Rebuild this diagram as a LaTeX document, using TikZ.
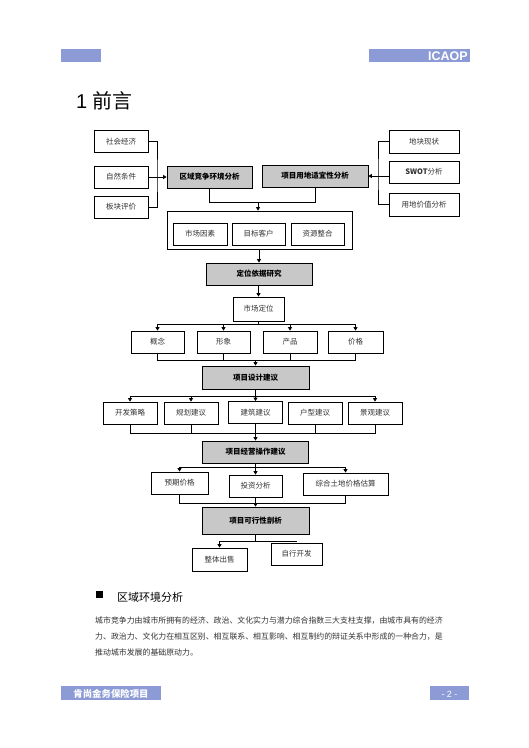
\documentclass[tikz,border=0pt]{standalone}
\usepackage{fontspec}
\setmainfont{Liberation Sans}
\newfontfamily\cjk{Noto Sans CJK SC}
\usetikzlibrary{arrows.meta,calc}
\definecolor{hdr}{HTML}{8C9BD5}
\definecolor{shade}{HTML}{C8C8C8}
\definecolor{ink}{HTML}{333333}
\tikzset{
  wbox/.style={draw, line width=0.8pt, fill=white, inner sep=0pt, minimum width=54pt, minimum height=22pt, text=ink, font=\cjk\fontsize{7.5}{8}\selectfont},
  gbox/.style={wbox, fill=shade, minimum width=106pt, text=black, font=\cjk\bfseries\fontsize{7.5}{8}\selectfont},
  link/.style={line width=0.8pt},
  arr/.style={link, -{Triangle[length=3.5pt,width=4pt]}},
  para/.style={anchor=base west, inner sep=0pt, text=ink, font=\cjk\fontsize{7.9}{9}\selectfont},
  band/.style={anchor=base, inner sep=0pt, text=white, font=\bfseries\fontsize{9.4}{10}\selectfont},
}
\begin{document}
\begin{tikzpicture}[x=1pt,y=-1pt]
  \useasboundingbox[fill=white] (0,0) rectangle (529,748);
  % header and footer bands
  \fill[hdr] (61,49) rectangle (101,62);
  \fill[hdr] (369,49) rectangle (470,62);
  \node[anchor=base east, inner sep=0pt, text=white, font=\bfseries\fontsize{12.5}{13}\selectfont] (icaop) at (468,60) {ICAOP};
  \fill[hdr] (61,686) rectangle (161,700);
  \fill[hdr] (430,686) rectangle (469,700);
  \node[band, font=\cjk\bfseries\fontsize{9.4}{10}\selectfont] (proj) at (111,697) {肯尚金务保险项目};
  \node[band, font=\fontsize{9}{10}\selectfont] (page) at (449.5,697) {- 2 -};
  % title
  \node[anchor=base west, inner sep=0pt, font=\fontsize{20}{22}\selectfont] (title) at (76,108) {1 {\cjk 前言}};

  % first row
  \node[wbox] (se) at (121,141.5) {社会经济};
  \node[wbox] (zr) at (121,177) {自然条件};
  \node[wbox] (bk) at (121,207) {板块评价};
  \node[gbox, minimum width=85pt] (qy) at (209.5,177) {区域竞争环境分析};
  \node[gbox] (xm) at (315,176) {项目用地适宜性分析};
  \node[wbox, minimum width=70pt, minimum height=23pt] (dk) at (424,141.5) {地块现状};
  \node[wbox, minimum width=70pt] (swot) at (424,172) {\textbf{SWOT}分析};
  \node[wbox, minimum width=70pt, minimum height=23pt] (yd) at (424,204.5) {用地价值分析};
  \coordinate (lj) at (157,177);
  \coordinate (rj) at (378,176);
  \draw[link] (se.east) -| (lj) |- (bk.east);
  \draw[arr] (zr.east) -- (qy.west);
  \draw[link] (dk.west) -| (rj) |- (yd.west);
  \draw[arr] (swot.west |- xm.east) -- (xm.east);

  % market block
  \node[wbox, minimum width=185pt, minimum height=38pt] (ys) at (259.5,230) {};
  \node[wbox] (sc) at (200,234) {市场因素};
  \node[wbox, minimum width=53pt] (mb) at (258.5,234) {目标客户};
  \node[wbox, minimum width=53pt] (zy) at (317.5,234) {资源整合};
  \coordinate (j1) at (258,202);
  \draw[link] (qy.south) |- (j1);
  \draw[link] (xm.south) |- (j1);
  \draw[arr] (j1) -- (j1 |- ys.north);

  \node[gbox] (dw) at (259,274) {定位依据研究};
  \node[wbox, minimum width=51pt, minimum height=24pt] (scdw) at (258.5,309) {市场定位};
  \draw[arr] (dw.north |- ys.south) -- (dw.north);
  \draw[arr] (scdw.north |- dw.south) -- (scdw.north);

  % positioning
  \node[wbox, minimum width=53pt] (gn) at (157.5,342) {概念};
  \node[wbox, minimum width=53pt] (xx) at (223.5,342) {形象};
  \node[wbox] (cp) at (290,342) {产品};
  \node[wbox, minimum width=55pt] (jg) at (355.5,342) {价格};
  \node[gbox, minimum width=107pt, minimum height=23pt] (sj) at (255.5,377.5) {项目设计建议};
  \coordinate (j2) at (258.5,324);
  \coordinate (j3) at (255.5,360);
  \draw[link] (scdw.south) -- (j2);
  \foreach \n in {gn,xx,cp,jg} {
    \draw[arr] (j2) -| (\n.north);
    \draw[link] (\n.south) |- (j3);
  }
  \draw[arr] (j3) -- (sj.north);

  % design advice
  \node[wbox] (kf) at (130,413) {开发策略};
  \node[wbox] (gh) at (191,413) {规划建议};
  \node[wbox] (jz) at (255.5,412.5) {建筑建议};
  \node[wbox] (hx) at (315,413) {户型建议};
  \node[wbox] (jgjy) at (375,413) {景观建议};
  \node[gbox] (jy) at (255.5,452) {项目经营操作建议};
  \coordinate (j4) at (255.5,396);
  \coordinate (j5) at (255.5,433);
  \draw[link] (sj.south) -- (j4);
  \foreach \n in {kf,gh,jz,jgjy}
    \draw[arr] (j4) -| (\n.north);
  \foreach \n in {kf,gh,hx,jgjy}
    \draw[link] (\n.south) |- (j5);
  \draw[arr] (jz.south) -- (jy.north);

  % operation advice
  \node[wbox, minimum width=57pt] (yq) at (179.5,483) {预期价格};
  \node[wbox, minimum width=53pt] (tz) at (255.5,486) {投资分析};
  \node[wbox, minimum width=85pt] (zh) at (345.5,484) {综合土地价格估算};
  \node[gbox, minimum width=107pt, minimum height=27pt] (kx) at (255.5,520.5) {项目可行性剖析};
  \coordinate (j6) at (255.5,467);
  \coordinate (j7) at (255.5,503);
  \draw[link] (jy.south) -- (j6);
  \foreach \n in {yq,tz,zh}
    \draw[arr] (j6) -| (\n.north);
  \draw[link] (yq.south) |- (j7);
  \draw[link] (zh.south) |- (j7);
  \draw[arr] (tz.south) -- (kx.north);

  % feasibility
  \node[wbox, minimum width=55pt, minimum height=23pt] (zt) at (219.5,559.5) {整体出售};
  \node[wbox, minimum width=51pt] (zx) at (296.5,554) {自行开发};
  \coordinate (j8) at (255.5,541);
  \draw[link] (kx.south) -- (j8);
  \draw[arr] (j8) -| (zt.north);
  \draw[link] (j8) -- (j8 -| zx.north);

  % section text
  \fill (96,591) rectangle (103,598);
  \node[anchor=base west, inner sep=0pt, font=\cjk\fontsize{11}{12}\selectfont] (sec) at (117,601) {区域环境分析};
  \node[para] (p1) at (95,623) {城市竞争力由城市所拥有的经济、政治、文化实力与潜力综合指数三大支柱支撑，由城市具有的经济};
  \node[para] (p2) at (95,639) {力、政治力、文化力在相互区别、相互联系、相互影响、相互制约的辩证关系中形成的一种合力，是};
  \node[para] (p3) at (95,655) {推动城市发展的基础原动力。};
\end{tikzpicture}
\end{document}
